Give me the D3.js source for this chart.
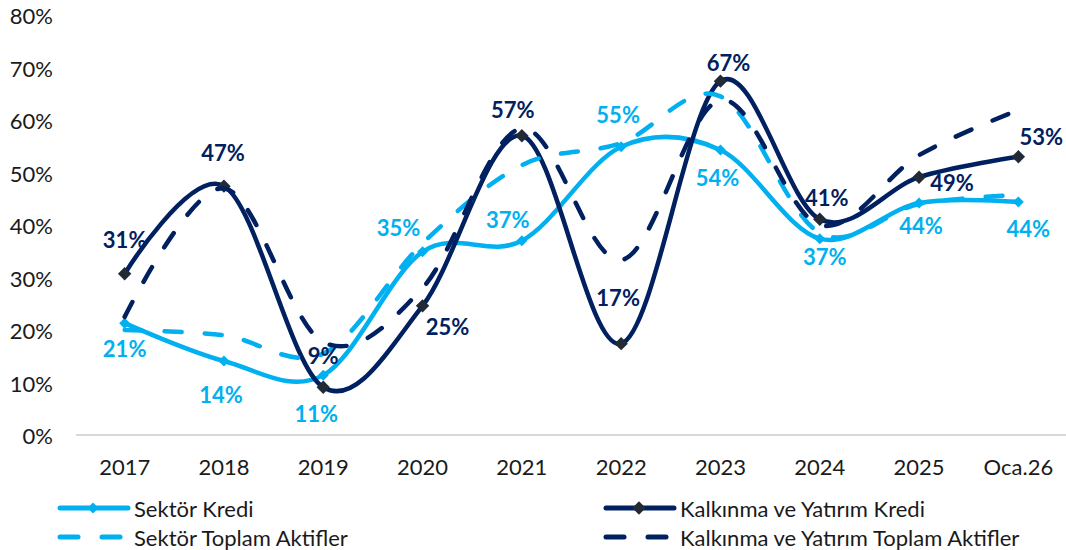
<!DOCTYPE html>
<html>
<head>
<meta charset="utf-8">
<script src="https://cdn.jsdelivr.net/npm/d3@7"></script>
<style>
  body { margin: 0; background: #fff; }
  svg text { font-family: Lato, "Open Sans", sans-serif; }
</style>
</head>
<body>
<svg id="chart" width="1066" height="550"></svg>
<script>
// categories and values (percent)
const categories = ["2017", "2018", "2019", "2020", "2021", "2022", "2023", "2024", "2025", "Oca.26"];
const sektorKredi = [21.3, 14.1, 11.4, 34.9, 37.0, 54.9, 54.3, 37.4, 44.2, 44.4];
const kyKredi = [30.7, 47.4, 9.1, 24.6, 57.0, 17.4, 67.4, 41.1, 49.1, 53.0];
const sektorAktif = [20.0, 19.0, 15.5, 36.5, 51.4, 55.6, 64.5, 38.5, 44.0, 45.7];
const kyAktif = [22.5, 47.0, 17.7, 28.0, 58.4, 33.3, 63.8, 40.0, 53.3, 61.9];
const yTicks = [0, 10, 20, 30, 40, 50, 60, 70, 80];

// label placement (offsets from the point)
const sektorKrediLabelPos = [[0, 25], [-3, 34], [-7, 38], [-24, -24], [-14, -21], [-3, -32], [-3, 28], [5, 18], [2, 23], [10, 27]];
const kyKrediLabelPos = [[0, -34], [-1, -34], [0, -32], [25, 21], [-9, -26], [-3, -46], [8, -19], [7, -22], [33, 5], [23, -20]];

const lightBlue = "#00B0F0";
const navy = "#002060";
const markerDark = "#222A35";
const fontSize = 22;

const svg = d3.select("#chart");

const x = d3.scaleBand().domain(categories).range([75, 1068]);
const y = d3.scaleLinear().domain([0, 80]).range([435, 15]);
const cx = c => x(c) + x.bandwidth() / 2;

// y axis labels
svg.append("g")
  .attr("transform", "translate(75,0)")
  .call(d3.axisLeft(y).tickValues(yTicks).tickSize(0).tickPadding(22).tickFormat(d => d + "%"))
  .call(g => g.select(".domain").remove())
  .selectAll("text")
  .attr("font-size", fontSize)
  .attr("fill", "#1a1a1a")
  .attr("dy", null)
  .attr("dominant-baseline", "central");

// x axis
const xAxis = svg.append("g")
  .attr("transform", "translate(0,435)")
  .call(d3.axisBottom(x).tickSize(0));
xAxis.select(".domain")
  .attr("d", "M76,0H1066")
  .attr("stroke", "#D9D9D9")
  .attr("stroke-width", 2);
xAxis.selectAll("text")
  .attr("font-size", fontSize)
  .attr("fill", "#1a1a1a")
  .attr("dy", null)
  .attr("y", 31)
  .attr("dominant-baseline", "central");

const line = d3.line()
  .x((d, i) => cx(categories[i]))
  .y(d => y(d))
  .curve(d3.curveCardinal.tension(0));

const series = [
  { name: "Sektör Kredi", values: sektorKredi, color: lightBlue, dash: null, marker: lightBlue, msize: 60 },
  { name: "Kalkınma ve Yatırım Kredi", values: kyKredi, color: navy, dash: null, marker: markerDark, msize: 90 },
  { name: "Sektör Toplam Aktifler", values: sektorAktif, color: lightBlue, dash: "17,23", marker: null },
  { name: "Kalkınma ve Yatırım Toplam Aktifler", values: kyAktif, color: navy, dash: "17,23", marker: null }
];

const diamond = s => d3.symbol(d3.symbolSquare, s)();

series.forEach(s => {
  svg.append("path")
    .datum(s.values)
    .attr("d", line)
    .attr("fill", "none")
    .attr("stroke", s.color)
    .attr("stroke-width", 4.5)
    .attr("stroke-linecap", "round")
    .attr("stroke-dasharray", s.dash);
  if (s.marker) {
    svg.append("g").selectAll("path")
      .data(s.values)
      .join("path")
      .attr("d", diamond(s.msize))
      .attr("fill", s.marker)
      .attr("transform", (d, i) => `translate(${cx(categories[i])},${y(d)}) rotate(45)`);
  }
});

// data labels
function addLabels(values, pos, color) {
  svg.append("g").selectAll("text")
    .data(values)
    .join("text")
    .attr("x", (d, i) => cx(categories[i]) + pos[i][0])
    .attr("y", (d, i) => y(d) + pos[i][1])
    .attr("text-anchor", "middle")
    .attr("dominant-baseline", "central")
    .attr("font-size", fontSize)
    .attr("font-weight", "bold")
    .attr("fill", color)
    .text(d => Math.round(d) + "%");
}
addLabels(sektorKredi, sektorKrediLabelPos, lightBlue);
addLabels(kyKredi, kyKrediLabelPos, navy);

// legend
const legendPos = [[58, 508], [604, 508], [58, 537], [604, 537]];
series.forEach((s, i) => {
  const [lx, ly] = legendPos[i];
  const g = svg.append("g").attr("transform", `translate(${lx},${ly})`);
  if (s.dash) {
    g.append("line").attr("x1", 2).attr("x2", 20).attr("stroke", s.color)
      .attr("stroke-width", 5).attr("stroke-linecap", "round");
    g.append("line").attr("x1", 44).attr("x2", 62).attr("stroke", s.color)
      .attr("stroke-width", 5).attr("stroke-linecap", "round");
  } else {
    g.append("line").attr("x1", 2).attr("x2", 70).attr("stroke", s.color)
      .attr("stroke-width", 5).attr("stroke-linecap", "round");
    g.append("path").attr("d", diamond(s.msize))
      .attr("fill", s.marker).attr("transform", "translate(35,0) rotate(45)");
  }
  g.append("text")
    .attr("x", 76)
    .attr("dominant-baseline", "central")
    .attr("font-size", fontSize)
    .attr("fill", "#1a1a1a")
    .text(s.name);
});
</script>
</body>
</html>
